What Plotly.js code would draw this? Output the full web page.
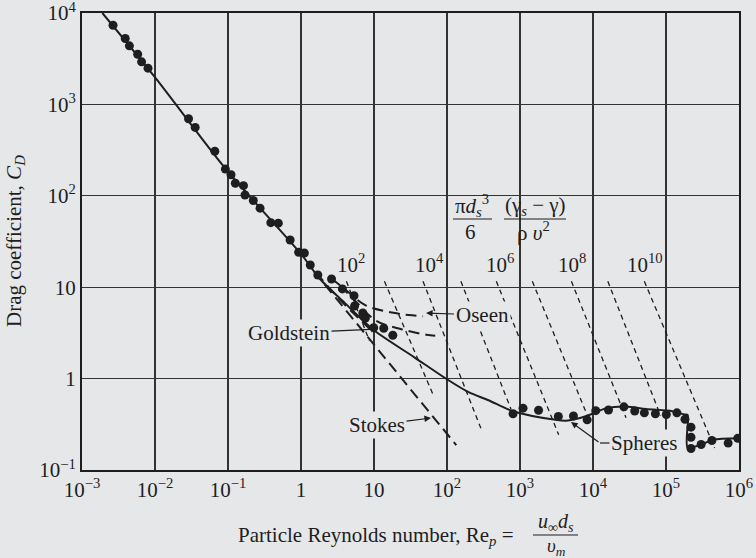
<!DOCTYPE html>
<html>
<head>
<meta charset="utf-8">
<script src="https://cdn.plot.ly/plotly-3.0.1.min.js"></script>
<style>html,body{margin:0;padding:0;background:#e6e7e9;}</style>
</head>
<body>
<div id="chart" style="width:756px;height:558px;"></div>
<script>
// ---------------- DATA ----------------
// Standard drag curve for spheres (solid line)
const sphereRe = [0.0019, 0.0099, 0.092, 1.0, 1.82, 4.0, 9.9, 35.7, 101, 198, 370, 803, 3080, 4270, 8150, 15300, 28500, 53200, 122000, 179000, 198000, 198000, 303000, 440000, 1000000];
const sphereCD = [10000, 2000, 199, 23.1, 12.3, 6.7, 3.40, 1.71, 0.977, 0.71, 0.58, 0.44, 0.354, 0.346, 0.390, 0.475, 0.494, 0.464, 0.44, 0.405, 0.40, 0.175, 0.190, 0.214, 0.222];

// Experimental points (dots)
const pointRe = [0.00266, 0.00391, 0.00446, 0.00579, 0.00655, 0.00802, 0.0288, 0.0355, 0.066, 0.092, 0.110, 0.126, 0.163, 0.171, 0.222, 0.275, 0.386, 0.489, 0.710, 0.929, 1.11, 1.34, 1.70, 2.62, 3.69, 5.32, 5.42, 7.03, 7.62, 9.9, 13.6, 18.1, 803, 1100, 1795, 3350, 5400, 8320, 10900, 16300, 26500, 37300, 50500, 71600, 101000, 141000, 182000, 220000, 220000, 220000, 303000, 425000, 710000, 960000];
const pointCD = [7350, 5260, 4370, 3540, 2920, 2490, 697, 560, 307, 196, 170, 137, 129, 102, 88.9, 73.3, 50.8, 50.2, 32.8, 24.1, 23.7, 17.5, 13.6, 12.3, 9.57, 8.07, 6.22, 5.23, 4.60, 3.61, 3.56, 2.98, 0.412, 0.475, 0.450, 0.386, 0.390, 0.354, 0.446, 0.453, 0.491, 0.442, 0.422, 0.412, 0.405, 0.422, 0.359, 0.294, 0.228, 0.172, 0.190, 0.210, 0.197, 0.222];

// Theoretical curves (long dashes)
const stokesRe = [1.5, 134];
const stokesCD = [15, 0.187];
const goldsteinRe = [1.6, 2.5, 4, 6.3, 9.9];
const goldsteinCD = [14.5, 9.6, 6.4, 4.5, 3.15];
const oseenRe = [2.6, 4.2, 7.8, 18.5, 30, 47];
const oseenCD = [12.5, 9.2, 6.3, 5.25, 4.95, 4.8];
const oseen2Re = [3.4, 5.7, 10.7, 24.3, 52, 69];
const oseen2CD = [10.5, 6.9, 4.3, 3.45, 3.02, 2.94];

// Parameter lines  (pi d^3/6)(gs-g)/(rho v^2) = 10^k , k = 2..10  (short dashes)
const paramExp = [2, 3, 4, 5, 6, 7, 8, 9, 10];
const paramReStart = [4.19, 13.9, 46.9, 155, 474, 1476, 5060, 15960, 50500];
const paramCDStart = [11.6, 11.6, 11.6, 11.6, 11.6, 11.6, 11.6, 11.6, 11.6];
const paramReEnd = [8.61, 65.2, 301, 752, 3390, 8400, 28300, 84500, 464000];
const paramCDEnd = [2.61, 0.654, 0.267, 0.464, 0.243, 0.392, 0.374, 0.392, 0.174];
const paramLabelExp = [2, 4, 6, 8, 10];

// Axis ticks
const xTickVals = [0.001, 0.01, 0.1, 1, 10, 100, 1000, 10000, 100000, 1000000];
const xTickText = ['10<sup>\u22123</sup>', '10<sup>\u22122</sup>', '10<sup>\u22121</sup>', '1', '10', '10<sup>2</sup>', '10<sup>3</sup>', '10<sup>4</sup>', '10<sup>5</sup>', '10<sup>6</sup>'];
const yTickVals = [0.1, 1, 10, 100, 1000, 10000];
const yTickText = ['10<sup>\u22121</sup>', '1', '10', '10<sup>2</sup>', '10<sup>3</sup>', '10<sup>4</sup>'];

// ---------------- LAYOUT HELPERS ----------------
const BG = '#e6e7e9';
const INK = '#1e1e1e';
const FONT = 'Liberation Serif, Times New Roman, serif';
const FS = 21;
const L = 82, R = 739, T = 13, B = 470;
const px = v => (v - L) / (R - L);
const py = v => (B - v) / (B - T);

// param lines as one trace with gaps
const pX = [], pY = [];
for (let i = 0; i < paramExp.length; i++) {
  pX.push(paramReStart[i], paramReEnd[i], null);
  pY.push(paramCDStart[i], paramCDEnd[i], null);
}

const longDash = {color: INK, width: 2, dash: '11px,6px', shape: 'spline'};
const traces = [
  {x: pX, y: pY, mode: 'lines', line: {color: INK, width: 1.3, dash: '5px,4px'}, hoverinfo: 'skip', connectgaps: false},
  {x: stokesRe, y: stokesCD, mode: 'lines', line: longDash, hoverinfo: 'skip'},
  {x: goldsteinRe, y: goldsteinCD, mode: 'lines', line: longDash, hoverinfo: 'skip'},
  {x: oseenRe, y: oseenCD, mode: 'lines', line: longDash, hoverinfo: 'skip'},
  {x: oseen2Re, y: oseen2CD, mode: 'lines', line: longDash, hoverinfo: 'skip'},
  {x: sphereRe, y: sphereCD, mode: 'lines', line: {color: INK, width: 2, shape: 'spline', smoothing: 0.8}, hoverinfo: 'skip'},
  {x: pointRe, y: pointCD, mode: 'markers', marker: {color: INK, size: 9}, hoverinfo: 'skip'}
];

const ann = [];
function txt(text, x, y, opts) {
  ann.push(Object.assign({text: text, xref: 'paper', yref: 'paper', x: px(x), y: py(y), showarrow: false,
    xanchor: 'center', yanchor: 'middle', font: {family: FONT, size: FS, color: INK}}, opts || {}));
}
function arrowLabel(text, tipX, tipY, textX, textY) {
  ann.push({text: text, xref: 'paper', yref: 'paper', x: px(tipX), y: py(tipY), ax: textX - tipX, ay: textY - tipY,
    showarrow: true, arrowhead: 2, arrowsize: 1.1, arrowwidth: 1.2, arrowcolor: INK, bgcolor: BG, borderpad: 1,
    font: {family: FONT, size: FS, color: INK}});
}

// parameter-line labels
const labelX = [351, 429, 500, 572, 645];
paramLabelExp.forEach((e, i) => txt('10<sup>' + e + '</sup>', labelX[i], 263));

// named curves
arrowLabel('Goldstein', 378, 329, 289, 333);
arrowLabel('Stokes', 431, 418, 377, 425);
arrowLabel('Oseen', 426, 313, 482, 315);
txt('Spheres', 644, 443, {bgcolor: BG, borderpad: 1});
ann.push({text: '', xref: 'paper', yref: 'paper', x: px(571), y: py(422), ax: 29, ay: 21, showarrow: true,
  arrowhead: 2, arrowsize: 1.1, arrowwidth: 1.2, arrowcolor: INK});

// parameter formula
txt('\u03c0<i>d</i><sub><i>s</i></sub><sup>3</sup>', 472, 206);
txt('6', 470, 232);
txt('(\u03b3<sub><i>s</i></sub> \u2212 \u03b3)', 535, 206);
txt('\u03c1 <i>\u03c5</i><sup>2</sup>', 533, 231);

// axis titles
txt('Particle Reynolds number, Re<sub><i>p</i></sub> =', 516, 536, {xanchor: 'right'});
txt('<i>u</i><sub>\u221e</sub><i>d</i><sub><i>s</i></sub>', 556, 522, {font: {family: FONT, size: 20, color: INK}});
txt('<i>\u03c5</i><sub><i>m</i></sub>', 556, 547, {font: {family: FONT, size: 19, color: INK}});
txt('Drag coefficient, <i>C</i><sub><i>D</i></sub>', 15, 241, {textangle: -90});

const shapes = [
  // background patch behind the formula (interrupts grid lines)
  {type: 'rect', xref: 'paper', yref: 'paper', x0: px(450), x1: px(567), y0: py(250), y1: py(184), fillcolor: BG, line: {width: 0}, layer: 'between'},
  // fraction bars
  {type: 'line', xref: 'paper', yref: 'paper', x0: px(453), x1: px(492), y0: py(219), y1: py(219), line: {color: INK, width: 1.2}},
  {type: 'line', xref: 'paper', yref: 'paper', x0: px(504), x1: px(566), y0: py(219), y1: py(219), line: {color: INK, width: 1.2}},
  {type: 'line', xref: 'paper', yref: 'paper', x0: px(533), x1: px(578), y0: py(535), y1: py(535), line: {color: INK, width: 1.2}},
  // Spheres leader horizontal part
  {type: 'line', xref: 'paper', yref: 'paper', x0: px(600), x1: px(612), y0: py(443), y1: py(443), line: {color: INK, width: 1.2}}
];

const axisCommon = {
  type: 'log', showgrid: true, gridcolor: '#333333', gridwidth: 1.2, showline: true, linecolor: INK, linewidth: 2,
  mirror: true, ticks: '', zeroline: false, fixedrange: true, tickmode: 'array', ticklabeloverflow: 'allow',
  tickfont: {family: FONT, size: FS, color: INK}
};

const layout = {
  width: 756, height: 558,
  margin: {l: L, r: 756 - R, t: T, b: 558 - B},
  paper_bgcolor: BG, plot_bgcolor: BG,
  showlegend: false,
  font: {family: FONT, size: FS, color: INK},
  xaxis: Object.assign({}, axisCommon, {range: [-3, 6], tickvals: xTickVals, ticktext: xTickText}),
  yaxis: Object.assign({}, axisCommon, {range: [-1, 4], tickvals: yTickVals, ticktext: yTickText}),
  annotations: ann,
  shapes: shapes
};

Plotly.newPlot('chart', traces, layout, {displayModeBar: false, staticPlot: true});
</script>
</body>
</html>
